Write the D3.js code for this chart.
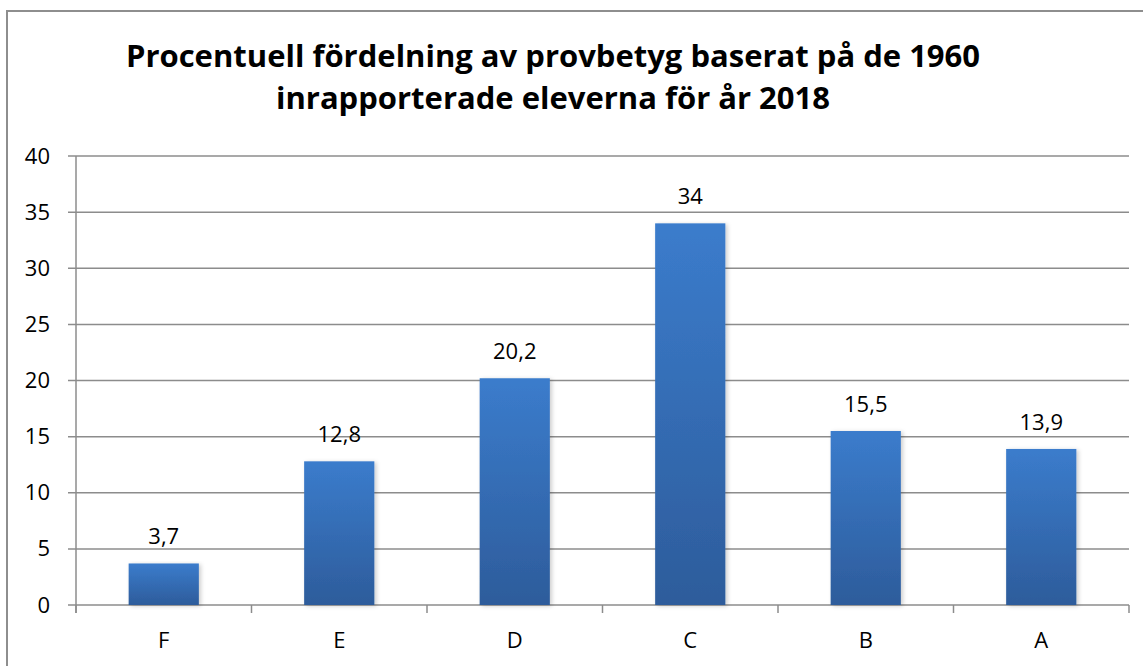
<!DOCTYPE html>
<html>
<head>
<meta charset="utf-8">
<script src="https://cdn.jsdelivr.net/npm/d3@7"></script>
<style>
body { margin: 0; background: #fff; }
svg text { font-family: "Open Sans", "Liberation Sans", sans-serif; fill: #000; }
</style>
</head>
<body>
<script>
// grades and share of pupils (%)
var grades = ["F", "E", "D", "C", "B", "A"];
var values = [3.7, 12.8, 20.2, 34, 15.5, 13.9];
var yTicks = [0, 5, 10, 15, 20, 25, 30, 35, 40];
var titleLines = ["Procentuell fördelning av provbetyg baserat på de 1960", "inrapporterade eleverna för år 2018"];

var W = 1143, H = 666;
var margin = {top: 156, right: 14, bottom: 61, left: 76},
    width = W - margin.left - margin.right,
    height = H - margin.top - margin.bottom;

var svg = d3.select("body").append("svg")
    .attr("width", W)
    .attr("height", H);

var defs = svg.append("defs");
var grad = defs.append("linearGradient")
    .attr("id", "barGrad")
    .attr("x1", 0).attr("y1", 0).attr("x2", 0).attr("y2", 1);
grad.append("stop").attr("offset", "0%").attr("stop-color", "#3b7ccc");
grad.append("stop").attr("offset", "100%").attr("stop-color", "#2d5c9b");

var shadow = defs.append("filter").attr("id", "shadow")
    .attr("x", "-10%").attr("y", "-5%").attr("width", "130%").attr("height", "115%");
shadow.append("feDropShadow")
    .attr("dx", 2).attr("dy", 1).attr("stdDeviation", 2)
    .attr("flood-color", "#000").attr("flood-opacity", 0.2);

// outer chart border
svg.append("rect")
    .attr("x", 7).attr("y", 11)
    .attr("width", W + 10).attr("height", H + 10)
    .attr("fill", "none")
    .attr("stroke", "#8e8e8e")
    .attr("stroke-width", 2);

svg.selectAll(".title")
    .data(titleLines)
  .enter().append("text")
    .attr("class", "title")
    .attr("x", 553)
    .attr("y", function(d, i) { return 67 + i * 42; })
    .style("text-anchor", "middle")
    .style("font-weight", "bold")
    .style("font-size", "31px")
    .text(function(d) { return d; });

var g = svg.append("g")
    .attr("transform", "translate(" + margin.left + "," + margin.top + ")");

var x = d3.scaleBand()
    .domain(grades)
    .range([0, width])
    .paddingInner(0.6)
    .paddingOuter(0.3);

var y = d3.scaleLinear()
    .domain([0, 40])
    .range([height, 0]);

// gridlines
g.selectAll(".grid")
    .data(yTicks)
  .enter().append("line")
    .attr("class", "grid")
    .attr("x1", -8)
    .attr("x2", width)
    .attr("y1", function(d) { return y(d); })
    .attr("y2", function(d) { return y(d); })
    .attr("stroke", "#8c8c8c")
    .attr("stroke-width", 1.5);

// y axis
var yAxis = d3.axisLeft(y).tickValues(yTicks).tickSize(0).tickPadding(26);
var ya = g.append("g").call(yAxis);
ya.select(".domain").remove();
ya.selectAll("text")
    .style("font-size", "22px")
    .style("font-family", "'Open Sans', 'Liberation Sans', sans-serif");

g.append("line")
    .attr("x1", 0).attr("x2", 0)
    .attr("y1", 0).attr("y2", height + 8)
    .attr("stroke", "#8c8c8c")
    .attr("stroke-width", 1.5);

// x axis ticks between categories
var xTickPos = d3.range(grades.length + 1).map(function(i) { return i * width / grades.length; });
g.selectAll(".xtick")
    .data(xTickPos)
  .enter().append("line")
    .attr("class", "xtick")
    .attr("x1", function(d) { return d; })
    .attr("x2", function(d) { return d; })
    .attr("y1", height)
    .attr("y2", height + 8)
    .attr("stroke", "#8c8c8c")
    .attr("stroke-width", 1.5);

g.selectAll(".xlabel")
    .data(grades)
  .enter().append("text")
    .attr("class", "xlabel")
    .attr("x", function(d) { return x(d) + x.bandwidth() / 2; })
    .attr("y", height + 43)
    .style("text-anchor", "middle")
    .style("font-size", "22px")
    .text(function(d) { return d; });

g.selectAll(".bar")
    .data(values)
  .enter().append("rect")
    .attr("class", "bar")
    .attr("x", function(d, i) { return x(grades[i]); })
    .attr("y", function(d) { return y(d); })
    .attr("width", x.bandwidth())
    .attr("height", function(d) { return height - y(d); })
    .attr("fill", "url(#barGrad)")
    .attr("filter", "url(#shadow)");

var fmt = function(d) { return String(d).replace(".", ","); };
g.selectAll(".val")
    .data(values)
  .enter().append("text")
    .attr("class", "val")
    .attr("x", function(d, i) { return x(grades[i]) + x.bandwidth() / 2; })
    .attr("y", function(d) { return y(d) - 19; })
    .style("text-anchor", "middle")
    .style("font-size", "22px")
    .text(fmt);
</script>
</body>
</html>
